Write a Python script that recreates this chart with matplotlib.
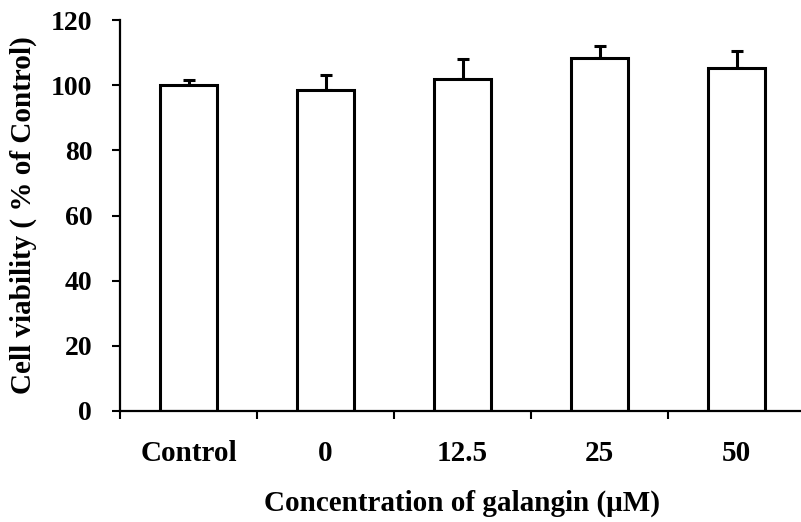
import numpy as np
import matplotlib.pyplot as plt

groups = ["Control", "0", "12.5", "25", "50"]
viability = [100.0, 98.5, 101.8, 108.4, 105.2]
sd = [1.5, 4.7, 6.2, 3.6, 5.2]

plt.rcParams['font.family'] = ['Liberation Serif', 'DejaVu Serif']
plt.rcParams['font.weight'] = 'bold'

fig = plt.figure(figsize=(8.01, 5.22), dpi=100)
ax = fig.add_axes([120 / 801, 111 / 522, 685 / 801, 391 / 522])

x = np.arange(len(groups))
ax.bar(x, viability, width=0.416, color='white', edgecolor='black', linewidth=2.2, zorder=2)
ax.errorbar(x, viability, yerr=[np.zeros(len(sd)), sd], fmt='none', ecolor='black',
            elinewidth=2.2, capsize=4, capthick=2.2, zorder=1)

ax.set_xlim(-0.5, len(groups) - 0.5)
ax.set_ylim(0, 120)
ax.set_yticks(np.arange(0, 121, 20))

# category boundaries get the tick marks, names sit between them
ax.set_xticks(np.arange(-0.5, len(groups), 1.0))
ax.set_xticklabels([])
ax.set_xticks(x, minor=True)
ax.set_xticklabels(groups, minor=True)
ax.tick_params(axis='x', which='major', length=6, width=1.5, direction='out')
ax.tick_params(axis='x', which='minor', length=0, pad=21, labelsize=21)
ax.tick_params(axis='y', length=6, width=1.5, direction='out', pad=14, labelsize=20)

for side in ['top', 'right']:
    ax.spines[side].set_visible(False)
for side in ['left', 'bottom']:
    ax.spines[side].set_linewidth(1.6)

ax.set_ylabel("Cell viability ( % of Control)", fontsize=21, fontweight='bold')
ax.yaxis.set_label_coords(-83 / 685, 0.5)
ax.set_xlabel("Concentration of galangin (μM)", fontsize=21, fontweight='bold')
ax.xaxis.set_label_coords(0.5, -79 / 391)

fig.savefig("out.png", dpi=100)
